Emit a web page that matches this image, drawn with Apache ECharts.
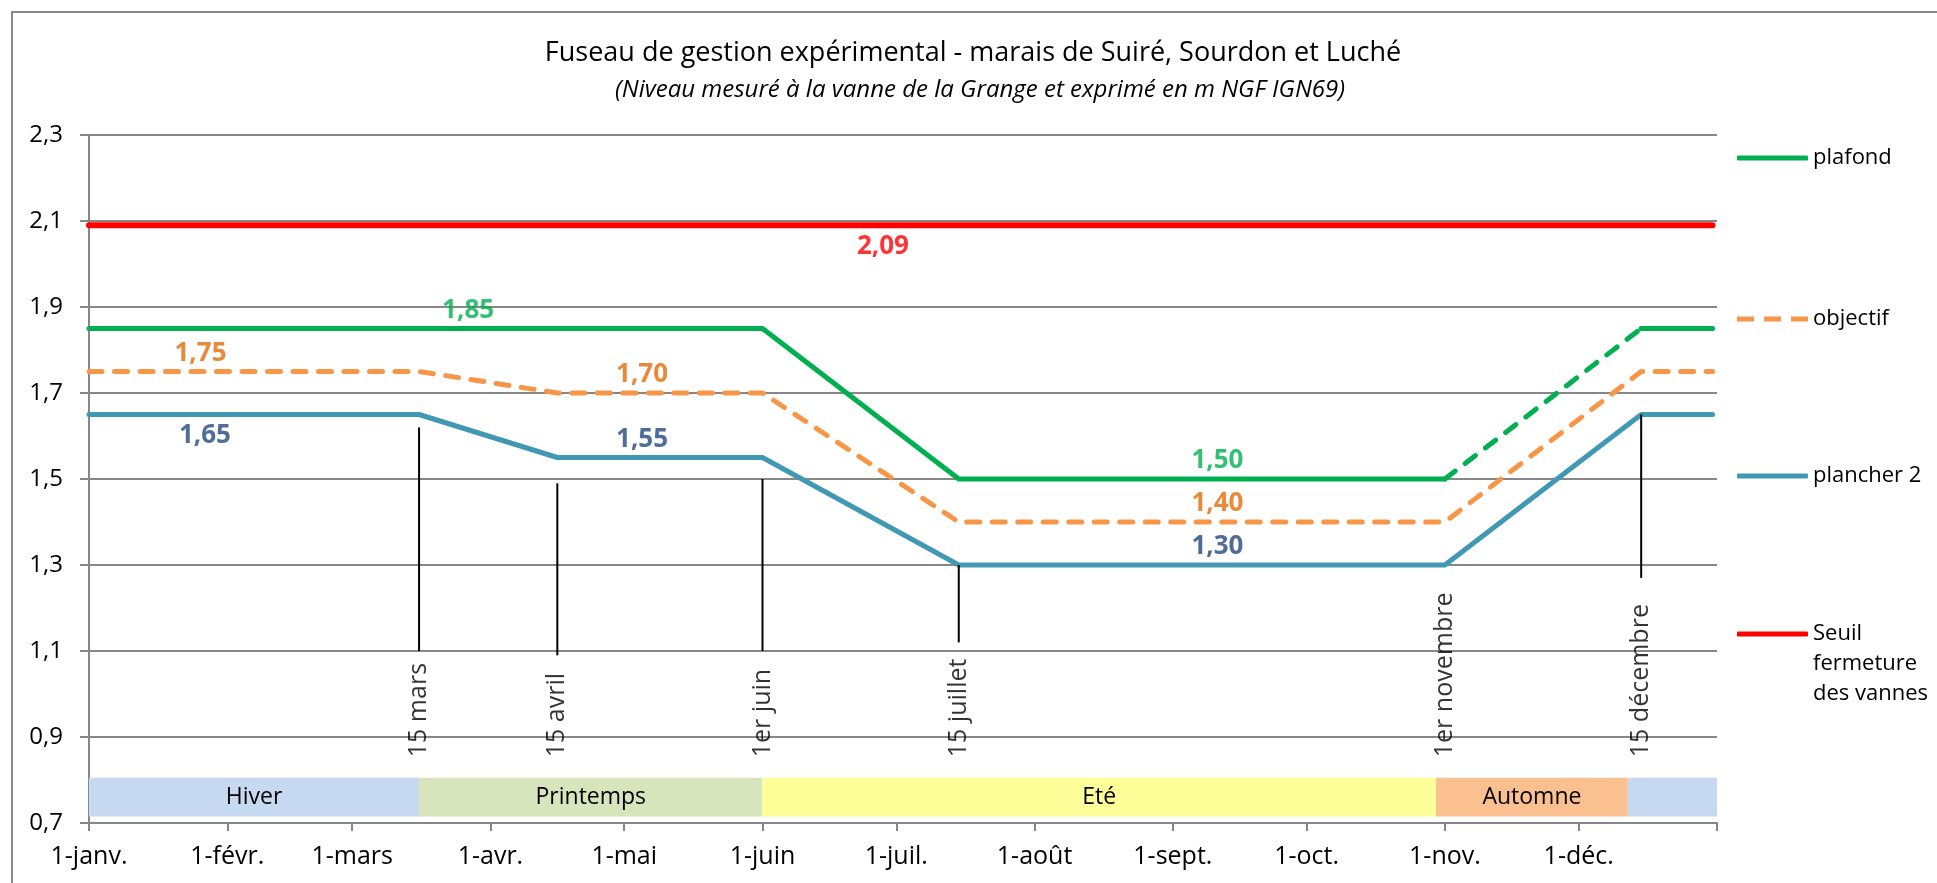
<!DOCTYPE html>
<html><head><meta charset="utf-8">
<script src="https://cdn.jsdelivr.net/npm/echarts@6/dist/echarts.min.js"></script>
<style>html,body{margin:0;padding:0;background:#fff}#c{width:1937px;height:883px}</style>
</head><body><div id="c"></div>
<script>
// ---------- DATA ----------
const monthTicks = ['2013-01-01','2013-02-01','2013-03-01','2013-04-01','2013-05-01','2013-06-01','2013-07-01','2013-08-01','2013-09-01','2013-10-01','2013-11-01','2013-12-01','2014-01-01'];
const monthLabels = ['1-janv.','1-févr.','1-mars','1-avr.','1-mai','1-juin','1-juil.','1-août','1-sept.','1-oct.','1-nov.','1-déc.'];

const plafondDates  = ['2013-01-01','2013-06-01','2013-07-15','2013-11-01','2013-12-15','2013-12-31'];
const plafondValues = [1.85, 1.85, 1.50, 1.50, 1.85, 1.85];
const plafondDashedFrom = '2013-11-01';
const plafondDashedTo   = '2013-12-15';

const objectifDates  = ['2013-01-01','2013-03-16','2013-04-16','2013-06-01','2013-07-15','2013-11-01','2013-12-15','2013-12-31'];
const objectifValues = [1.75, 1.75, 1.70, 1.70, 1.40, 1.40, 1.75, 1.75];

const plancherDates  = ['2013-01-01','2013-03-16','2013-04-16','2013-06-01','2013-07-15','2013-11-01','2013-12-15','2013-12-31'];
const plancherValues = [1.65, 1.65, 1.55, 1.55, 1.30, 1.30, 1.65, 1.65];

const seuilDates  = ['2013-01-01','2013-12-31'];
const seuilValues = [2.09, 2.09];

// value labels
const plafondLabelDates  = ['2013-03-27','2013-09-11'];
const plafondLabelValues = [1.85, 1.50];
const objectifLabelDates  = ['2013-01-26','2013-05-05','2013-09-11'];
const objectifLabelValues = [1.75, 1.70, 1.40];
const plancherLabelDates  = ['2013-01-27','2013-05-05','2013-09-11'];
const plancherLabelValues = [1.65, 1.55, 1.30];
const seuilLabelDates  = ['2013-06-28'];
const seuilLabelValues = [2.09];

// key dates (vertical bars)
const eventDates  = ['2013-03-16','2013-04-16','2013-06-01','2013-07-15','2013-11-01','2013-12-15'];
const eventNames  = ['15 mars','15 avril','1er juin','15 juillet','1er novembre','15 décembre'];
const eventTop    = [1.62, 1.49, 1.50, 1.30, null, 1.65];
const eventBottom = [1.10, 1.09, 1.10, 1.12, null, 1.27];

// seasons
const seasonNames  = ['Hiver','Printemps','Eté','Automne',''];
const seasonStarts = ['2013-01-01','2013-03-16','2013-06-01','2013-10-30','2013-12-12'];
const seasonEnds   = ['2013-03-16','2013-06-01','2013-10-30','2013-12-12','2014-01-01'];

// ---------- STYLE ----------
const FONT = "'Open Sans', 'Noto Sans', sans-serif";
const GRID_GRAY = '#878787';
const seasonColors = ['#C6D9F1','#D8E4BC','#FFFF99','#FAC090','#C6D9F1'];
const SEASON_LOW = 0.715, SEASON_HIGH = 0.805;
const EVENT_LABEL_BASE = 0.853;

const ts = s => { const [y,m,d] = s.split('-').map(Number); return Date.UTC(y, m-1, d); };
const zip = (ds, vs) => ds.map((d,i) => [ts(d), vs[i]]);
const fmt = v => v.toFixed(2).replace('.', ',');

const plafondPts = zip(plafondDates, plafondValues);
const iA = plafondDates.indexOf(plafondDashedFrom), iB = plafondDates.indexOf(plafondDashedTo);

const lineBase = (name, color, width, extra) => Object.assign({
  name, type: 'line', symbol: 'none', silent: true, z: 3,
  lineStyle: { color, width, cap: 'round', join: 'round' },
  itemStyle: { color }
}, extra || {});

function labelSeries(dates, values, color, places) {
  return {
    type: 'scatter', silent: true, symbolSize: 0, z: 6,
    data: dates.map((d, i) => ({
      value: [ts(d), values[i]],
      label: { offset: [0, places && places[i] === 'below' ? 21 : -18] }
    })),
    label: {
      show: true, position: 'inside', color, fontFamily: FONT, fontSize: 26, fontWeight: 'bold',
      formatter: p => fmt(p.value[1])
    }
  };
}

const series = [];
series.push(lineBase('Seuil fermeture des vannes', '#FF0000', 6, {
  data: zip(seuilDates, seuilValues),
  markArea: {
    silent: true,
    data: seasonNames.map((n, i) => [
      { xAxis: ts(seasonStarts[i]), yAxis: SEASON_LOW, name: n,
        itemStyle: { color: seasonColors[i] },
        label: { show: true, position: 'inside', color: '#000', fontFamily: FONT, fontSize: 23 } },
      { xAxis: ts(seasonEnds[i]), yAxis: SEASON_HIGH }
    ])
  }
}));
series.push(lineBase('plafond', '#00B050', 5, { data: plafondPts.slice(0, iA + 1) }));
series.push(lineBase('plafond', '#00B050', 5, { data: plafondPts.slice(iA, iB + 1), lineStyle: { color: '#00B050', width: 5, cap: 'round', type: [13, 12.5] } }));
series.push(lineBase('plafond', '#00B050', 5, { data: plafondPts.slice(iB) }));
series.push(lineBase('objectif', '#F79646', 5, { data: zip(objectifDates, objectifValues), lineStyle: { color: '#F79646', width: 5, cap: 'round', join: 'round', type: [13, 12.5] } }));
series.push(lineBase('plancher 2', '#4198B5', 5, { data: zip(plancherDates, plancherValues) }));

eventDates.forEach((d, i) => {
  if (eventTop[i] == null) return;
  series.push({ type: 'line', symbol: 'none', silent: true, z: 4,
    lineStyle: { color: '#000', width: 2 },
    data: [[ts(d), eventTop[i]], [ts(d), eventBottom[i]]] });
});
series.push({
  type: 'scatter', silent: true, symbolSize: 0, z: 5,
  data: eventDates.map(d => [ts(d), EVENT_LABEL_BASE]),
  label: { show: true, position: 'inside', rotate: 90, align: 'left', verticalAlign: 'middle',
    color: '#000', fontFamily: FONT, fontSize: 25,
    formatter: p => eventNames[p.dataIndex] }
});
series.push(labelSeries(plafondLabelDates, plafondLabelValues, '#00B050'));
series.push(labelSeries(objectifLabelDates, objectifLabelValues, '#E46C0A'));
series.push(labelSeries(plancherLabelDates, plancherLabelValues, '#23497E', ['below','above','above']));
series.push(labelSeries(seuilLabelDates, seuilLabelValues, '#FF0000', ['below']));

const ICON_SOLID = 'roundRect';
const ICON_DASHED = 'path://M0 0H17V5H0Z M27 0H44V5H27Z M54 0H71V5H54Z';
const legendBase = (name, top, icon, extra) => Object.assign({
  data: [name], left: 1737, top, orient: 'vertical', itemWidth: 71, itemHeight: 5, padding: 0,
  selectedMode: false, icon,
  textStyle: { fontFamily: FONT, fontSize: 22, color: '#000', lineHeight: 30 }
}, extra || {});

const tickValues = monthTicks.map(ts);
const monthOf = v => new Date(v).getUTCMonth();

const option = {
  animation: false,
  backgroundColor: '#fff',
  title: [
    { text: 'Fuseau de gestion expérimental - marais de Suiré, Sourdon et Luché', left: 973, top: 40, textAlign: 'center',
      padding: 0, textStyle: { fontFamily: FONT, fontSize: 27, fontWeight: 'normal', color: '#000' } },
    { text: '(Niveau mesuré à la vanne de la Grange et exprimé en m NGF IGN69)', left: 980, top: 78, textAlign: 'center',
      padding: 0, textStyle: { fontFamily: FONT, fontSize: 24, fontStyle: 'italic', fontWeight: 'normal', color: '#000' } }
  ],
  legend: [
    legendBase('plafond', 143, ICON_SOLID),
    legendBase('objectif', 304, ICON_DASHED),
    legendBase('plancher 2', 461, ICON_SOLID),
    legendBase('Seuil fermeture des vannes', 559, ICON_SOLID, {
      formatter: '\n\nSeuil\nfermeture\ndes vannes'
    })
  ],
  graphic: [{ type: 'rect', silent: true, shape: { x: 12, y: 12, width: 2000, height: 1000 },
    style: { fill: 'none', stroke: '#8a8a8a', lineWidth: 2 } }],
  grid: { left: 89, right: 220, top: 135, bottom: 60, containLabel: false },
  xAxis: {
    type: 'value', min: tickValues[0], max: tickValues[tickValues.length - 1],
    axisLine: { show: true, lineStyle: { color: GRID_GRAY, width: 2 } },
    axisTick: { show: true, length: 8, lineStyle: { color: GRID_GRAY, width: 2 }, customValues: tickValues },
    axisLabel: { show: true, margin: 21, color: '#000', fontFamily: FONT, fontSize: 25,
      customValues: tickValues.slice(0, monthLabels.length),
      formatter: v => monthLabels[monthOf(v)] },
    splitLine: { show: false }, minorTick: { show: false }
  },
  yAxis: {
    type: 'value', min: 0.7, max: 2.3, interval: 0.2,
    axisLine: { show: true, lineStyle: { color: GRID_GRAY, width: 2 } },
    axisTick: { show: true, length: 9, lineStyle: { color: GRID_GRAY, width: 2 } },
    axisLabel: { margin: 26, color: '#000', fontFamily: FONT, fontSize: 24,
      formatter: v => (Math.round(v * 10) / 10).toFixed(1).replace('.', ',') },
    splitLine: { show: true, lineStyle: { color: GRID_GRAY, width: 2 } }
  },
  series
};
const chart = echarts.init(document.getElementById('c'));
chart.setOption(option);
</script></body></html>
